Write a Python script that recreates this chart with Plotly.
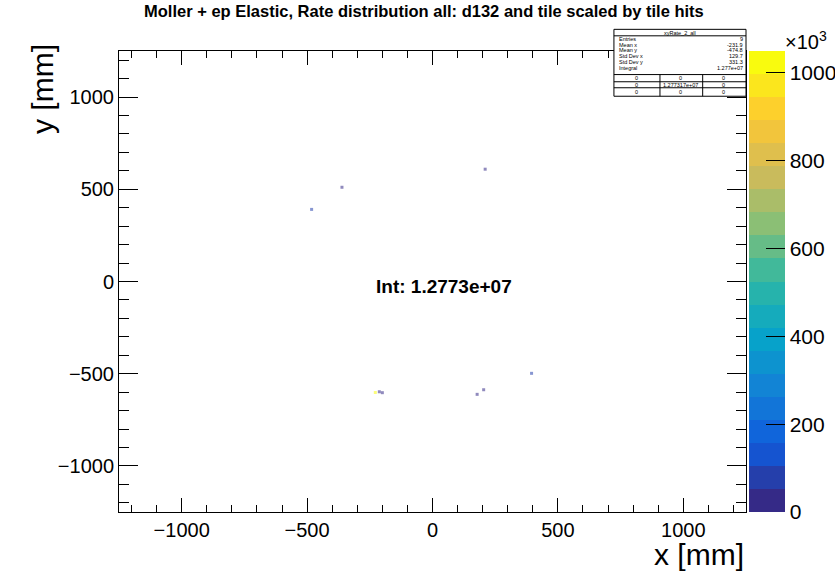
import plotly.graph_objects as go

# ---------------- data ----------------
x_mm = [210, -361, -482, -228, -212, -200, 204, 178, 395]
y_mm = [609, 511, 391, -602, -598, -603, -587, -612, -498]
rate = [30000, 40000, 60000, 1050000, 50000, 40000, 50000, 40000, 70000]

cbar_tickvals = [0, 200000, 400000, 600000, 800000, 1000000]
cbar_ticktext = ["0", "200", "400", "600", "800", "1000"]

stats_labels = ["Entries", "Mean x", "Mean y", "Std Dev x", "Std Dev y", "Integral"]
stats_values = ["9", "-231.9", "-474.8", "129.7", "331.3", "1.277e+07"]
table_rows = [["0", "0", "0"], ["0", "1.277317e+07", "0"], ["0", "0", "0"]]

title_text = "Moller + ep Elastic, Rate distribution all: d132 and tile scaled by tile hits"
int_text = "Int: 1.2773e+07"

# ---------------- kBird palette, 20 contours ----------------
stops = [0.0, 0.125, 0.25, 0.375, 0.5, 0.625, 0.75, 0.875, 1.0]
red = [0.2082, 0.0592, 0.0780, 0.0232, 0.1802, 0.5301, 0.8186, 0.9956, 0.9764]
green = [0.1664, 0.3599, 0.5041, 0.6419, 0.7178, 0.7492, 0.7328, 0.7862, 0.9832]
blue = [0.5293, 0.8684, 0.8385, 0.7914, 0.6425, 0.4662, 0.3499, 0.1968, 0.0539]


def interp(t, s, v):
    for i in range(len(s) - 1):
        if s[i] <= t <= s[i + 1]:
            f = (t - s[i]) / (s[i + 1] - s[i])
            return v[i] + f * (v[i + 1] - v[i])
    return v[-1]


ncont = 20
cscale = []
for i in range(ncont):
    t = i / (ncont - 1)
    c = "rgb(%d,%d,%d)" % (round(255 * interp(t, stops, red)),
                          round(255 * interp(t, stops, green)),
                          round(255 * interp(t, stops, blue)))
    cscale.append([i / ncont, c])
    cscale.append([(i + 1) / ncont, c])

# ---------------- geometry helpers (pixels -> paper) ----------------
W, H = 835, 575
L, R, T, B = 119.3, 746.0, 50.7, 512.3


def px(x):
    return (x - L) / (R - L)


def py(y):
    return (B - y) / (B - T)


FONT = "Liberation Sans, Arial, Helvetica, sans-serif"

fig = go.Figure()
fig.add_trace(go.Scatter(
    x=x_mm, y=y_mm, mode="markers",
    marker=dict(
        symbol="square", size=3, opacity=0.55,
        color=rate, colorscale=cscale, cmin=0, cmax=1050000,
        line=dict(width=0),
        colorbar=dict(
            x=px(749), xanchor="left", xpad=0, y=0, yanchor="bottom", ypad=0,
            len=1, lenmode="fraction", thickness=36, thicknessmode="pixels",
            outlinewidth=0,
            tickvals=cbar_tickvals, ticktext=cbar_ticktext,
            ticks="inside", ticklen=19, tickcolor="black", tickwidth=1,
            tickfont=dict(size=21, color="black", family=FONT),
        ),
    ),
    showlegend=False, hoverinfo="skip",
))

axis_common = dict(
    showgrid=False, zeroline=False, showline=True, linecolor="black", linewidth=1,
    mirror="allticks", ticks="inside", tickcolor="black", tickwidth=1,
    tickfont=dict(size=20, color="black", family=FONT),
    range=[-1250, 1250], dtick=500, tick0=0,
)

fig.update_xaxes(**axis_common, ticklen=14,
                 minor=dict(dtick=100, tick0=0, ticks="inside", ticklen=7, tickcolor="black"))
fig.update_yaxes(**axis_common, ticklen=19,
                 minor=dict(dtick=100, tick0=0, ticks="inside", ticklen=10, tickcolor="black"))

annotations = [
    dict(text="<b>" + title_text + "</b>", x=px(424), y=py(11), xanchor="center", yanchor="middle",
         font=dict(size=16.5, color="black", family=FONT)),
    dict(text="<b>" + int_text + "</b>", x=px(444), y=py(287), xanchor="center", yanchor="middle",
         font=dict(size=19, color="black", family=FONT)),
    dict(text="y [mm]", x=px(43), y=py(42), xanchor="center", yanchor="top", textangle=-90,
         font=dict(size=30, color="black", family=FONT)),
    dict(text="x [mm]", x=px(746), y=py(573), xanchor="right", yanchor="bottom",
         font=dict(size=30, color="black", family=FONT)),
    dict(text="×10<sup>3</sup>", x=px(783), y=py(55), xanchor="left", yanchor="bottom",
         font=dict(size=20, color="black", family=FONT)),
    dict(text="<b>Moller + ep d132 tile hits</b>", x=px(192), y=py(568), xanchor="left", yanchor="top",
         font=dict(size=28, color="rgb(220,30,30)", family=FONT)),
]

# stats box
shapes = [
    dict(type="rect", xref="paper", yref="paper", x0=px(614), x1=px(746), y0=py(96), y1=py(29),
         line=dict(color="black", width=1), fillcolor="white", layer="above"),
    dict(type="line", xref="paper", yref="paper", x0=px(614), x1=px(746), y0=py(35.5), y1=py(35.5),
         line=dict(color="black", width=1), layer="above"),
]
for yl in [74.3, 81.5, 87.5]:
    shapes.append(dict(type="line", xref="paper", yref="paper", x0=px(614), x1=px(746),
                       y0=py(yl), y1=py(yl), line=dict(color="black", width=1), layer="above"))
for xl in [660, 702.7]:
    shapes.append(dict(type="line", xref="paper", yref="paper", x0=px(xl), x1=px(xl),
                       y0=py(74.3), y1=py(96), line=dict(color="black", width=1), layer="above"))

sfont = dict(size=5.5, color="black", family=FONT)
annotations.append(dict(text="xyRate_2_all", x=px(680), y=py(32.3), xanchor="center", yanchor="middle",
                        font=sfont))
row_y = [38.5, 44.5, 50, 56, 61.5, 68]
for lab, val, yy in zip(stats_labels, stats_values, row_y):
    annotations.append(dict(text=lab, x=px(617), y=py(yy), xanchor="left", yanchor="middle", font=sfont))
    annotations.append(dict(text=val, x=px(745), y=py(yy), xanchor="right", yanchor="middle", font=sfont))
col_x = [637, 681, 724]
tab_y = [78, 84.5, 91.5]
for row, yy in zip(table_rows, tab_y):
    for cell, xx in zip(row, col_x):
        annotations.append(dict(text=cell, x=px(xx), y=py(yy), xanchor="center", yanchor="middle",
                                font=sfont))

for a in annotations:
    a.update(xref="paper", yref="paper", showarrow=False)

fig.update_layout(
    width=W, height=H,
    margin=dict(l=L, r=W - R, t=T, b=H - B, autoexpand=False),
    paper_bgcolor="white", plot_bgcolor="white",
    font=dict(family=FONT, color="black"),
    annotations=annotations, shapes=shapes,
)

fig.write_html("out.html", config={"displayModeBar": False},
               post_script="document.body.style.margin='0px';document.body.style.overflow='hidden';")
